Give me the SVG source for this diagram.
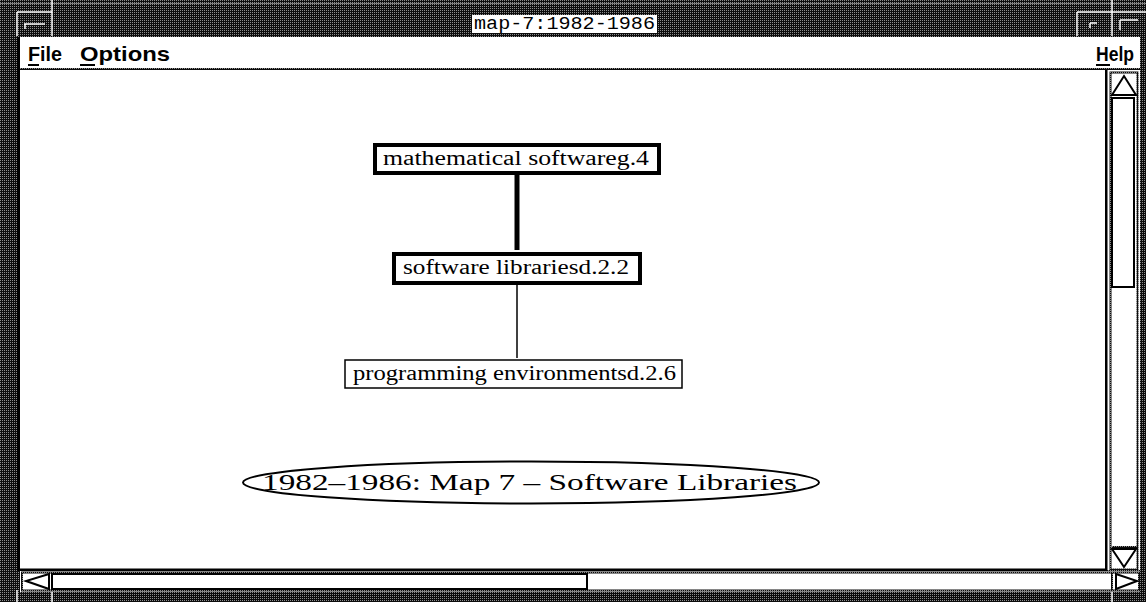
<svg xmlns="http://www.w3.org/2000/svg" width="1146" height="602" viewBox="0 0 1146 602">
<defs>
<pattern id="st" width="2" height="2" patternUnits="userSpaceOnUse"><rect width="2" height="2" fill="#0c0c0c"/><rect width="1" height="1" fill="#8c8c8c"/></pattern>
</defs>
<style>
.node rect{fill:#fff;stroke:#000}
.thick rect{stroke-width:4}
.thin rect{stroke-width:1.5}
.lbl{font-family:"Liberation Serif",serif;font-size:20px;fill:#000}
.menu{font-family:"Liberation Sans",Arial,sans-serif;font-weight:bold;font-size:21px;fill:#000}
.title{font-family:"Liberation Mono",monospace;font-size:19px;fill:#000}
.wl{stroke:#fff;stroke-width:1.5}
</style>
<!-- window frame -->
<rect x="0" y="0" width="1146" height="602" fill="url(#st)"/>
<line x1="0" y1="3.5" x2="1146" y2="3.5" stroke="#7a7a7a" stroke-width="1"/>
<line class="wl" x1="17" y1="12" x2="17" y2="36"/>
<line class="wl" x1="52" y1="0" x2="52" y2="36"/>
<line class="wl" x1="17" y1="12" x2="52" y2="12"/>
<line class="wl" x1="24" y1="24" x2="45" y2="24"/>
<line class="wl" x1="25" y1="24" x2="25" y2="29"/>
<line class="wl" x1="1077" y1="12" x2="1077" y2="36"/>
<line class="wl" x1="1112" y1="0" x2="1112" y2="36"/>
<line class="wl" x1="1077" y1="12" x2="1146" y2="12"/>
<line class="wl" x1="1090" y1="23" x2="1097" y2="23"/>
<line class="wl" x1="1090" y1="23" x2="1090" y2="28"/>
<line class="wl" x1="1120" y1="20" x2="1138" y2="20"/>
<line class="wl" x1="1120" y1="20" x2="1120" y2="30"/>
<line class="wl" x1="17" y1="590" x2="17" y2="602"/>
<line class="wl" x1="52" y1="592" x2="52" y2="602"/>
<line class="wl" x1="1112" y1="592" x2="1112" y2="602"/>
<!-- title -->
<rect x="472" y="15" width="185" height="18" fill="#fff"/>
<text class="title" x="474" y="29" textLength="181" lengthAdjust="spacingAndGlyphs">map-7:1982-1986</text>
<!-- menu bar -->
<rect x="20" y="37" width="1120" height="32" fill="#fff"/>
<rect x="17" y="37" width="3" height="533" fill="#000"/>
<line x1="20" y1="69" x2="1140" y2="69" stroke="url(#st)" stroke-width="2"/>
<text class="menu" x="28" y="61" textLength="34" lengthAdjust="spacingAndGlyphs">File</text>
<line x1="28" y1="65" x2="39" y2="65" stroke="#000" stroke-width="2"/>
<text class="menu" x="80" y="61" textLength="90" lengthAdjust="spacingAndGlyphs">Options</text>
<line x1="80" y1="65" x2="95" y2="65" stroke="#000" stroke-width="2"/>
<text class="menu" x="1096" y="61" textLength="38" lengthAdjust="spacingAndGlyphs">Help</text>
<line x1="1096" y1="65" x2="1110" y2="65" stroke="#000" stroke-width="2"/>
<!-- canvas -->
<rect x="20" y="70" width="1085" height="499" fill="#fff"/>
<!-- vertical scrollbar -->
<rect x="1107" y="70" width="33" height="500" fill="#fff"/>
<rect x="1105" y="70" width="2.5" height="500" fill="#000"/>
<rect x="1110.5" y="72.5" width="27" height="497" fill="none" stroke="url(#st)" stroke-width="2"/>
<polygon points="1112,95 1124,76 1136,95" fill="none" stroke="#000" stroke-width="2"/>
<rect x="1112" y="98" width="22" height="189" fill="#fff" stroke="#000" stroke-width="2"/>
<polygon points="1112,549 1136,549 1124,567" fill="none" stroke="#000" stroke-width="2"/>
<line x1="1112" y1="547" x2="1138" y2="547" stroke="url(#st)" stroke-width="2"/>
<!-- horizontal scrollbar -->
<rect x="20" y="571" width="1120" height="21" fill="#fff"/>
<rect x="17" y="568.5" width="1090" height="2.5" fill="#000"/>
<rect x="22" y="572.5" width="1117" height="18" fill="none" stroke="url(#st)" stroke-width="2"/>
<polygon points="49,574 26,581 49,589" fill="none" stroke="#000" stroke-width="2"/>
<rect x="52" y="574" width="535" height="15" fill="#fff" stroke="#000" stroke-width="2"/>
<polygon points="1116,574 1137,581 1116,589" fill="none" stroke="#000" stroke-width="2"/>
<line x1="1112" y1="573" x2="1112" y2="591" stroke="url(#st)" stroke-width="2"/>
<!-- connectors -->
<g id="connectors">
<line x1="517" y1="175" x2="517" y2="250" stroke="#000" stroke-width="5"/>
<line x1="517" y1="285" x2="517" y2="358" stroke="#000" stroke-width="1.5"/>
</g>
<!-- nodes -->
<g id="node-math" class="node thick">
<rect x="375" y="145" width="284" height="28"/>
<text class="lbl" x="383" y="165" textLength="266" lengthAdjust="spacingAndGlyphs">mathematical softwareg.4</text>
</g>
<g id="node-libs" class="node thick">
<rect x="394" y="254" width="246" height="29"/>
<text class="lbl" x="403" y="274" textLength="226" lengthAdjust="spacingAndGlyphs">software librariesd.2.2</text>
</g>
<g id="node-prog" class="node thin">
<rect x="345" y="360" width="337" height="28"/>
<text class="lbl" x="353" y="380" textLength="323" lengthAdjust="spacingAndGlyphs">programming environmentsd.2.6</text>
</g>
<g id="node-title">
<ellipse cx="531" cy="482.5" rx="288" ry="21" fill="#fff" stroke="#000" stroke-width="2"/>
<text x="262" y="490" font-family="Liberation Serif,serif" font-size="24" textLength="535" lengthAdjust="spacingAndGlyphs">1982–1986: Map 7 – Software Libraries</text>
</g>
</svg>
